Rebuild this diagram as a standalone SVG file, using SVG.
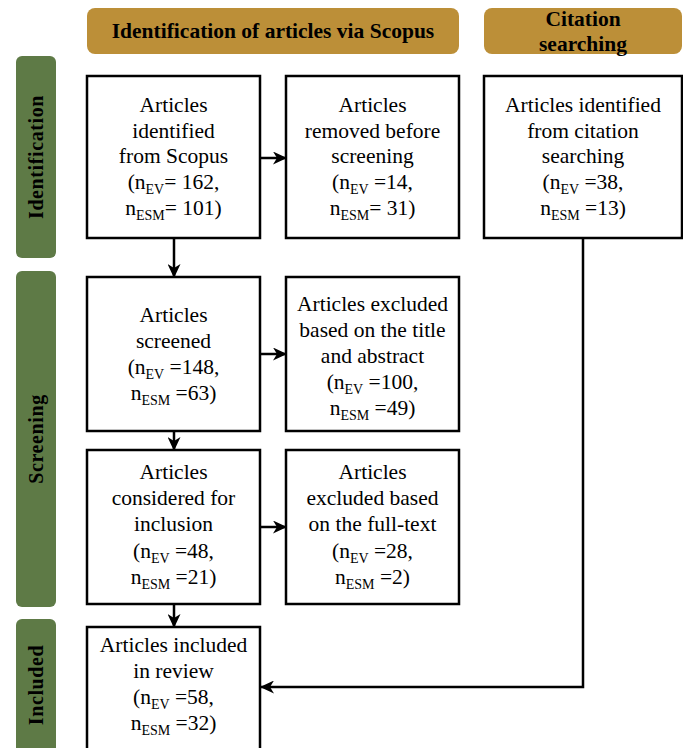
<svg xmlns="http://www.w3.org/2000/svg" width="683" height="748" viewBox="0 0 683 748">
<defs>
<style>
.hdr{fill:#BC8F38}
.bar{fill:#5E7A46}
.box{fill:#fff;stroke:#000;stroke-width:2.5}
text{font-family:'Liberation Serif','Times New Roman',serif}
.t{font-size:21.5px;fill:#000;text-anchor:middle}
.b{font-size:21.5px;font-weight:bold;fill:#000;text-anchor:middle}
.side{font-size:20px;font-weight:bold;fill:#000;text-anchor:middle;letter-spacing:0.6px}
.s{font-size:14px}
.c{fill:none;stroke:#000;stroke-width:2.5}
</style>
<marker id="ah" viewBox="0 0 14 13" refX="13" refY="6.5" markerWidth="14" markerHeight="13" markerUnits="userSpaceOnUse" orient="auto">
<path d="M0,0 L14,6.5 L0,13 L4,6.5 z" fill="#000"/>
</marker>
</defs>
<rect width="683" height="748" fill="#fff"/>
<g id="hdr-scopus"><rect class="hdr" x="87" y="8" width="372" height="46" rx="8"/><text class="b" x="273" y="38">Identification of articles via Scopus</text></g>
<g id="hdr-citation"><rect class="hdr" x="484" y="8" width="198" height="46" rx="8"/><text class="b" x="583" y="26">Citation</text><text class="b" x="583" y="51">searching</text></g>
<g id="bar-identification"><rect class="bar" x="16" y="56" width="40" height="202" rx="6"/><text class="side" transform="translate(43,157) rotate(-90)">Identification</text></g>
<g id="bar-screening"><rect class="bar" x="16" y="271" width="40" height="336" rx="6"/><text class="side" transform="translate(43,439) rotate(-90)">Screening</text></g>
<g id="bar-included"><rect class="bar" x="16" y="619" width="40" height="140" rx="6"/><text class="side" transform="translate(43,685) rotate(-90)">Included</text></g>
<g id="n-identified"><rect class="box" x="87" y="76" width="173" height="162"/>
<text class="t" x="173.5" y="112">Articles</text><text class="t" x="173.5" y="138">identified</text><text class="t" x="173.5" y="163">from Scopus</text>
<text class="t" x="173.5" y="189">(n<tspan class="s" dy="5">EV</tspan><tspan dy="-5">= 162,</tspan></text>
<text class="t" x="173.5" y="215">n<tspan class="s" dy="5">ESM</tspan><tspan dy="-5">= 101)</tspan></text></g>
<g id="n-removed"><rect class="box" x="286" y="76" width="173" height="162"/>
<text class="t" x="372.5" y="112">Articles</text><text class="t" x="372.5" y="138">removed before</text><text class="t" x="372.5" y="163">screening</text>
<text class="t" x="372.5" y="189">(n<tspan class="s" dy="5">EV</tspan><tspan dy="-5"> =14,</tspan></text>
<text class="t" x="372.5" y="215">n<tspan class="s" dy="5">ESM</tspan><tspan dy="-5">= 31)</tspan></text></g>
<g id="n-citation"><rect class="box" x="484" y="76" width="198" height="162"/>
<text class="t" x="583" y="112">Articles identified</text><text class="t" x="583" y="138">from citation</text><text class="t" x="583" y="163">searching</text>
<text class="t" x="583" y="189">(n<tspan class="s" dy="5">EV</tspan><tspan dy="-5"> =38,</tspan></text>
<text class="t" x="583" y="215">n<tspan class="s" dy="5">ESM</tspan><tspan dy="-5"> =13)</tspan></text></g>
<g id="n-screened"><rect class="box" x="87" y="277" width="173" height="154"/>
<text class="t" x="173.5" y="322">Articles</text><text class="t" x="173.5" y="348">screened</text>
<text class="t" x="173.5" y="374">(n<tspan class="s" dy="5">EV</tspan><tspan dy="-5"> =148,</tspan></text>
<text class="t" x="173.5" y="400">n<tspan class="s" dy="5">ESM</tspan><tspan dy="-5"> =63)</tspan></text></g>
<g id="n-excl-title"><rect class="box" x="286" y="277" width="173" height="154"/>
<text class="t" x="372.5" y="311">Articles excluded</text><text class="t" x="372.5" y="337">based on the title</text><text class="t" x="372.5" y="363">and abstract</text>
<text class="t" x="372.5" y="389">(n<tspan class="s" dy="5">EV</tspan><tspan dy="-5"> =100,</tspan></text>
<text class="t" x="372.5" y="415">n<tspan class="s" dy="5">ESM</tspan><tspan dy="-5"> =49)</tspan></text></g>
<g id="n-considered"><rect class="box" x="87" y="450" width="173" height="154"/>
<text class="t" x="173.5" y="479">Articles</text><text class="t" x="173.5" y="505">considered for</text><text class="t" x="173.5" y="531">inclusion</text>
<text class="t" x="173.5" y="558">(n<tspan class="s" dy="5">EV</tspan><tspan dy="-5"> =48,</tspan></text>
<text class="t" x="173.5" y="584">n<tspan class="s" dy="5">ESM</tspan><tspan dy="-5"> =21)</tspan></text></g>
<g id="n-excl-full"><rect class="box" x="286" y="450" width="173" height="154"/>
<text class="t" x="372.5" y="479">Articles</text><text class="t" x="372.5" y="505">excluded based</text><text class="t" x="372.5" y="531">on the full-text</text>
<text class="t" x="372.5" y="558">(n<tspan class="s" dy="5">EV</tspan><tspan dy="-5"> =28,</tspan></text>
<text class="t" x="372.5" y="584">n<tspan class="s" dy="5">ESM</tspan><tspan dy="-5"> =2)</tspan></text></g>
<g id="n-included"><rect class="box" x="87" y="627" width="173" height="125"/>
<text class="t" x="173.5" y="652">Articles included</text><text class="t" x="173.5" y="678">in review</text>
<text class="t" x="173.5" y="704">(n<tspan class="s" dy="5">EV</tspan><tspan dy="-5"> =58,</tspan></text>
<text class="t" x="173.5" y="730">n<tspan class="s" dy="5">ESM</tspan><tspan dy="-5"> =32)</tspan></text></g>
<g id="connectors">
<path class="c" d="M260,158 H286" marker-end="url(#ah)"/>
<path class="c" d="M174,238 V277" marker-end="url(#ah)"/>
<path class="c" d="M260,354 H286" marker-end="url(#ah)"/>
<path class="c" d="M174,431 V450" marker-end="url(#ah)"/>
<path class="c" d="M260,527 H286" marker-end="url(#ah)"/>
<path class="c" d="M174,604 V627" marker-end="url(#ah)"/>
<path class="c" d="M583,238 V687 H261" marker-end="url(#ah)"/>
</g>
</svg>
